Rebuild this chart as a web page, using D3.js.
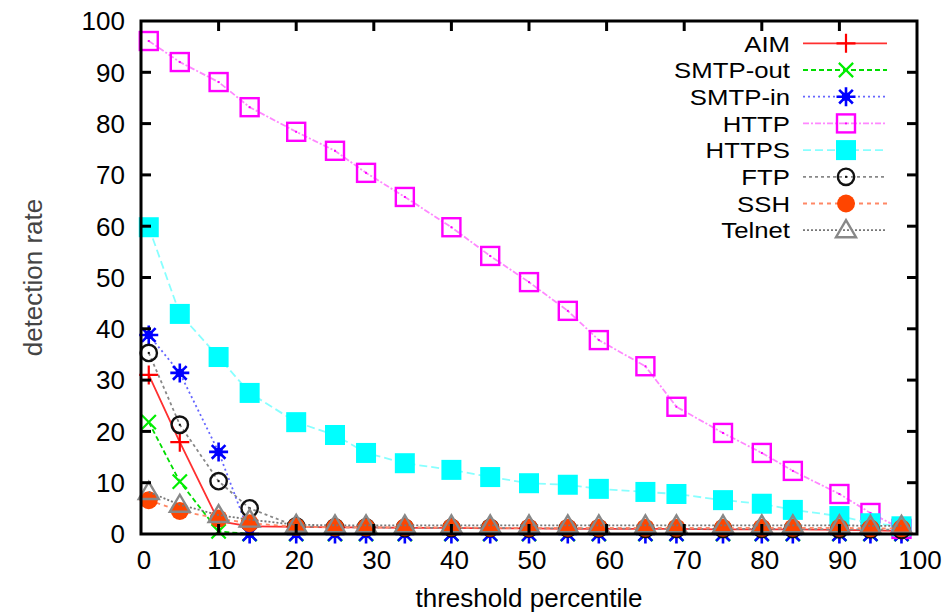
<!DOCTYPE html>
<html><head><meta charset="utf-8">
<script src="https://cdn.jsdelivr.net/npm/d3@7"></script>
<style>
html,body{margin:0;padding:0;background:#fff;}
svg text{font-family:"Liberation Sans",Arial,sans-serif;}
</style></head>
<body><svg id="c" width="947" height="612"></svg>
<script>
const percentiles = [1,5,10,14,20,25,29,34,40,45,50,55,59,65,69,75,80,84,90,94,98];
const aim      = [31,17.9,2.5,1.5,1.4,1.3,1.3,1.2,1.2,1.1,1.1,1,1,1,1,0.9,0.9,0.9,0.8,0.7,0.6];
const smtpOut  = [21.8,10.2,0.5,0,0,0,0,0,0,0,0,0,0,0,0,0,0,0,0,0,0];
const smtpIn   = [38.8,31.4,16,0,0,0,0,0,0,0,0,0,0,0,0,0,0,0,0,0,0];
const http     = [96.1,92,88.1,83.2,78.4,74.7,70.4,65.7,59.8,54.2,49.1,43.5,37.8,32.7,24.8,19.7,15.8,12.3,7.8,4.1,1];
const https    = [59.8,42.9,34.5,27.5,21.8,19.3,15.8,13.8,12.5,11.1,9.9,9.6,8.8,8.2,7.8,6.6,5.9,4.7,3.5,2.1,1.5];
const ftp      = [35.3,21.3,10.3,5,1.5,1.3,1.3,1.2,1.2,1.2,1.1,1.1,1.1,1,1,1,1,1,0.9,0.9,0.8];
const ssh      = [6.6,4.5,3,2.1,1.4,1.3,1.3,1.3,1.3,1.2,1.2,1.2,1.2,1.2,1.2,1.2,1.2,1.2,1.2,1.1,1.1];
const telnet   = [8.2,5.7,3.7,2.8,1.8,1.7,1.7,1.7,1.7,1.7,1.7,1.7,1.7,1.7,1.7,1.7,1.7,1.7,1.7,1.6,1.6];
const seriesNames = ["AIM","SMTP-out","SMTP-in","HTTP","HTTPS","FTP","SSH","Telnet"];
const xTicks = [0,10,20,30,40,50,60,70,80,90,100];
const yTicks = [0,10,20,30,40,50,60,70,80,90,100];

const series = [
  {name:seriesNames[0], vals:aim,     color:"#ff0000", line:"#ff3030", dash:null,    marker:"plus"},
  {name:seriesNames[1], vals:smtpOut, color:"#00ee00", line:"#00dd00", dash:"5,3",   marker:"x"},
  {name:seriesNames[2], vals:smtpIn,  color:"#0000ff", line:"#6666ff", dash:"2,3",   marker:"star"},
  {name:seriesNames[3], vals:http,    color:"#ff00ff", line:"#ff88ff", dash:"6,2,2,2", marker:"osq"},
  {name:seriesNames[4], vals:https,   color:"#00ffff", line:"#88ffff", dash:"8,4",   marker:"fsq"},
  {name:seriesNames[5], vals:ftp,     color:"#111111", line:"#888888", dash:"3,3",   marker:"ocirc"},
  {name:seriesNames[6], vals:ssh,     color:"#ff4500", line:"#ff8866", dash:"4,4",   marker:"fcirc"},
  {name:seriesNames[7], vals:telnet,  color:"#888888", line:"#777777", dash:"2,2",   marker:"tri"}
];

const svg = d3.select("#c");
const L=141, R=917, T=21, B=534;
const x = d3.scaleLinear().domain([0,100]).range([L,R]);
const y = d3.scaleLinear().domain([0,100]).range([B,T]);

function drawMarker(g, type, color){
  const s = 9.5;
  if(type==="plus"){
    g.append("path").attr("d",`M${-s},0H${s}M0,${-s}V${s}`).attr("stroke",color).attr("stroke-width",2.2).attr("fill","none");
  } else if(type==="x"){
    const a=s*0.75;
    g.append("path").attr("d",`M${-a},${-a}L${a},${a}M${-a},${a}L${a},${-a}`).attr("stroke",color).attr("stroke-width",2.2).attr("fill","none");
  } else if(type==="star"){
    const a=s*0.72;
    g.append("path").attr("d",`M${-s},0H${s}M0,${-s}V${s}M${-a},${-a}L${a},${a}M${-a},${a}L${a},${-a}`).attr("stroke",color).attr("stroke-width",2.6).attr("fill","none");
    g.append("rect").attr("x",-4).attr("y",-4).attr("width",8).attr("height",8).attr("fill",color);
  } else if(type==="osq"){
    g.append("rect").attr("x",-9).attr("y",-9).attr("width",18).attr("height",18).attr("fill","none").attr("stroke",color).attr("stroke-width",2.4);
    g.append("rect").attr("x",-1).attr("y",-1).attr("width",2).attr("height",2).attr("fill",color);
  } else if(type==="fsq"){
    g.append("rect").attr("x",-10).attr("y",-10).attr("width",20).attr("height",20).attr("fill",color);
  } else if(type==="ocirc"){
    g.append("circle").attr("r",8.2).attr("fill","none").attr("stroke",color).attr("stroke-width",2.4);
    g.append("rect").attr("x",-1).attr("y",-1).attr("width",2).attr("height",2).attr("fill",color);
  } else if(type==="fcirc"){
    g.append("circle").attr("r",9).attr("fill",color);
  } else if(type==="tri"){
    g.append("path").attr("d",`M0,${-10}L${10},${7}L${-10},${7}Z`).attr("fill","none").attr("stroke",color).attr("stroke-width",2.4);
  }
}

// series
const lineGen = d3.line().x((d,i)=>x(percentiles[i])).y(d=>y(d));
series.forEach(s=>{
  const g = svg.append("g");
  g.append("path").attr("d",lineGen(s.vals)).attr("fill","none")
    .attr("stroke",s.line).attr("stroke-width",1.8)
    .attr("stroke-dasharray",s.dash);
  s.vals.forEach((v,i)=>{
    const mg = g.append("g").attr("transform",`translate(${x(percentiles[i])},${y(v)})`);
    drawMarker(mg,s.marker,s.color);
  });
});

// frame and ticks
const fr = svg.append("g");
fr.append("rect").attr("x",L).attr("y",T).attr("width",R-L).attr("height",B-T)
  .attr("fill","none").attr("stroke","#000").attr("stroke-width",3);
const tl = 10;
xTicks.forEach(t=>{
  if(t>0 && t<100){
    fr.append("line").attr("x1",x(t)).attr("x2",x(t)).attr("y1",B).attr("y2",B-tl).attr("stroke","#000").attr("stroke-width",3);
    fr.append("line").attr("x1",x(t)).attr("x2",x(t)).attr("y1",T).attr("y2",T+tl).attr("stroke","#000").attr("stroke-width",3);
  }
  fr.append("text").attr("x",x(t)+3).attr("y",B+35).attr("text-anchor","middle")
    .attr("font-size",26).attr("fill","#000").text(t);
});
yTicks.forEach(t=>{
  if(t>0 && t<100){
    fr.append("line").attr("x1",L).attr("x2",L+tl).attr("y1",y(t)).attr("y2",y(t)).attr("stroke","#000").attr("stroke-width",3);
    fr.append("line").attr("x1",R).attr("x2",R-tl).attr("y1",y(t)).attr("y2",y(t)).attr("stroke","#000").attr("stroke-width",3);
  }
  fr.append("text").attr("x",125).attr("y",y(t)).attr("dy","0.36em").attr("text-anchor","end")
    .attr("font-size",26).attr("fill","#000").text(t);
});

// axis titles
svg.append("text").attr("x",(L+R)/2).attr("y",607).attr("text-anchor","middle")
  .attr("font-size",26).attr("fill","#000").text("threshold percentile");
svg.append("text").attr("transform",`translate(42,${(T+B)/2}) rotate(-90)`).attr("text-anchor","middle")
  .attr("font-size",26).attr("fill","#444").text("detection rate");

// legend
const lg = svg.append("g");
series.forEach((s,i)=>{
  const yy = 43.3 + i*26.7;
  lg.append("text").attr("transform",`translate(790,${yy}) scale(1.12,1)`).attr("dy","0.36em").attr("text-anchor","end")
    .attr("font-size",23).attr("fill","#000").text(s.name);
  lg.append("line").attr("x1",803).attr("x2",887).attr("y1",yy).attr("y2",yy)
    .attr("stroke",s.line).attr("stroke-width",1.8).attr("stroke-dasharray",s.dash);
  drawMarker(lg.append("g").attr("transform",`translate(846,${yy})`),s.marker,s.color);
});
</script></body></html>
